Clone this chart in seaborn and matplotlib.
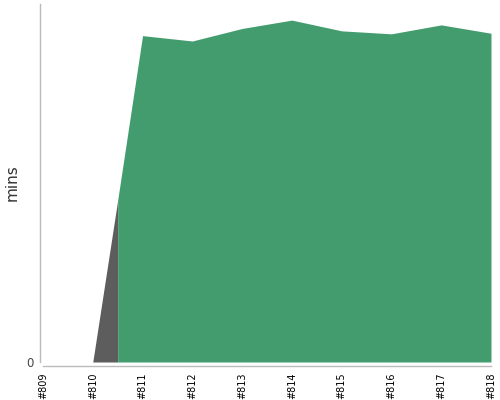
import numpy as np
import pandas as pd
import matplotlib
matplotlib.use("Agg")
import matplotlib.pyplot as plt
import seaborn as sns

# build numbers on the x axis
builds = [809, 810, 811, 812, 813, 814, 815, 816, 817, 818]
build_labels = [f"#{b}" for b in builds]

# grey series (short ramp at the start)
grey_x = [810, 810.5]
grey_mins = [0, 27.1]

# green series
green_x = [810.5, 811, 812, 813, 814, 815, 816, 817, 818]
green_mins = [27.1, 54.7, 53.8, 55.9, 57.3, 55.5, 55.0, 56.5, 55.1]

grey_df = pd.DataFrame({"build": grey_x, "mins": grey_mins})
green_df = pd.DataFrame({"build": green_x, "mins": green_mins})

sns.set_style("white")

fig = plt.figure(figsize=(5, 4), dpi=100)
ax = fig.add_axes([0.08, 0.095, 0.902, 0.895])

sns.lineplot(data=grey_df, x="build", y="mins", ax=ax, color="#5d5d5d", linewidth=0)
ax.fill_between(grey_df["build"], 0, grey_df["mins"], color="#5d5d5d", linewidth=0)
sns.lineplot(data=green_df, x="build", y="mins", ax=ax, color="#439c6e", linewidth=0)
ax.fill_between(green_df["build"], 0, green_df["mins"], color="#439c6e", linewidth=0)

ax.set_xlim(808.94, 818)
ax.set_ylim(0, 60)

ax.set_xticks(builds, labels=build_labels)
ax.set_yticks([0], labels=["0"])

ax.set_xlabel("")
ax.set_ylabel("mins", fontsize=11, color="#333333", labelpad=5)

for side in ["top", "right"]:
    ax.spines[side].set_visible(False)
ax.spines["left"].set_color("#bbbbbb")
ax.spines["bottom"].set_color("#bbbbbb")
ax.spines["left"].set_linewidth(1)
ax.spines["bottom"].set_linewidth(1)
ax.spines["bottom"].set_position(("outward", 3))
ax.spines["bottom"].set_bounds(809, 818)
ax.spines["left"].set_bounds(0, 60)

ax.tick_params(axis="both", length=3, width=1, color="#bbbbbb", pad=1.5)
ax.tick_params(axis="x", labelrotation=90, labelsize=7, labelcolor="black")
ax.tick_params(axis="y", labelsize=8.5, labelcolor="#444444")

fig.savefig("out.png", dpi=100)
